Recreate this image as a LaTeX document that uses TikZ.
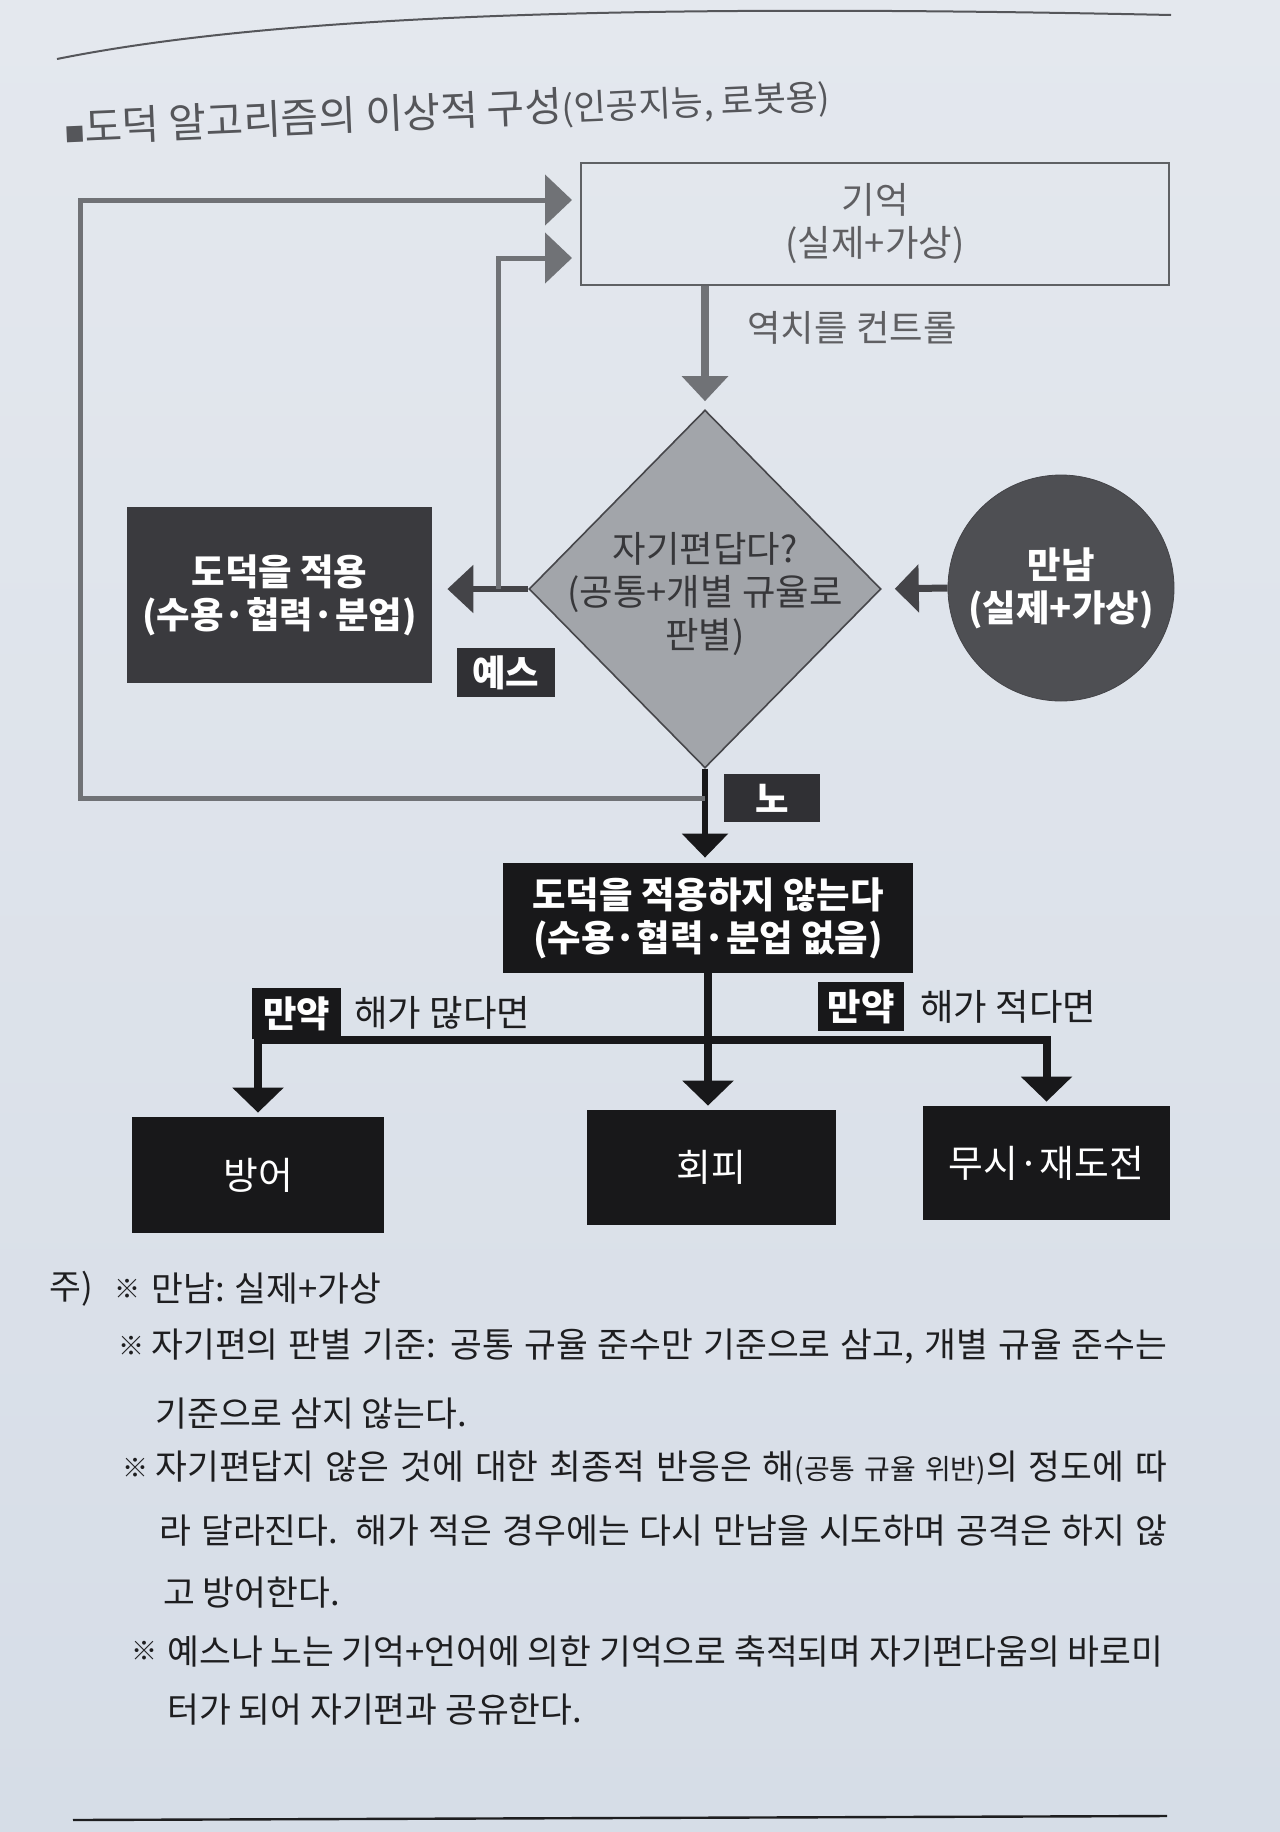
\documentclass[tikz,border=0pt]{standalone}
\usepackage{fontspec}
\setmainfont{Noto Sans CJK KR}
\usetikzlibrary{arrows.meta,shapes.geometric}

\begin{document}
\begin{tikzpicture}[x=0.5pt, y=-0.5pt,
    gieokBox/.style={draw=lineGrey, line width=1pt, minimum width=294pt, minimum height=61pt, inner sep=0pt, align=center, text=textGrey, font=\boxSize},
    darkBox/.style={fill=#1, inner sep=0pt, align=center, text=white, font=\boxSize\bfseries},
    tagBox/.style={fill=tagFill, inner sep=0pt, minimum width=49pt, minimum height=24.5pt, text=white, font=\boxSize\bfseries},
    endBox/.style={fill=blackFill, inner sep=0pt, text=white, font=\endSize},
    plainText/.style={anchor=west, inner sep=0pt, font=\boxSize},
    noteText/.style={anchor=west, inner sep=0pt, text=inkBlack, font=\noteSize},
    noteMark/.style={anchor=west, inner sep=0pt, text=inkBlack, font=\fontsize{13}{13}\selectfont},
    loopLine/.style={draw=loopGrey, line width=2.5pt, -{Triangle[length=13.5pt,width=25pt]}, shorten >=4pt},
    treeLine/.style={draw=blackFill, line width=4pt},
    treeTip/.style={-{Triangle[length=12.5pt,width=25pt]}, shorten >=2pt}
]
    \definecolor{bgTop}{RGB}{228,232,238}
    \definecolor{bgBottom}{RGB}{214,221,231}
    \definecolor{lineGrey}{RGB}{95,97,100}
    \definecolor{textGrey}{RGB}{95,95,98}
    \definecolor{titleGrey}{RGB}{85,86,90}
    \definecolor{loopGrey}{RGB}{112,114,118}
    \definecolor{darkGrey}{RGB}{68,68,72}
    \definecolor{diamondFill}{RGB}{162,165,170}
    \definecolor{diamondEdge}{RGB}{70,70,74}
    \definecolor{diamondText}{RGB}{55,55,58}
    \definecolor{circleFill}{RGB}{78,79,83}
    \definecolor{applyFill}{RGB}{58,58,62}
    \definecolor{tagFill}{RGB}{48,48,52}
    \definecolor{blackFill}{RGB}{24,24,26}
    \definecolor{inkBlack}{RGB}{30,30,32}

    \def\boxSize{\fontsize{18.2}{21.5}\selectfont}
    \def\endSize{\fontsize{18.9}{21}\selectfont}
    \def\noteSize{\fontsize{17.3}{21}\selectfont}

    % Page
    \shade[top color=bgTop, bottom color=bgBottom] (0,0) rectangle (1280,1832);
    \useasboundingbox (0,0) rectangle (1280,1832);

    % Rules
    \draw[draw=titleGrey, line width=1pt] (57,59) .. controls (300,10) and (700,5) .. (1171,15);
    \draw[draw=inkBlack, line width=1.2pt] (73,1820) -- (1167,1816);

    % Title
    \node[anchor=base west, inner sep=0pt, rotate=2.5, text=titleGrey] (title) at (65,143)
        {{\fontsize{10}{10}\selectfont ■}{\fontsize{20.4}{21}\selectfont 도덕 알고리즘의 이상적 구성}{\fontsize{17.6}{18}\selectfont(인공지능, 로봇용)}};

    % Memory, judgement, meeting
    \node[gieokBox] (gieok) at (875,224) {기억\\(실제+가상)};
    \node[diamond, draw=diamondEdge, fill=diamondFill, line width=0.8pt, minimum width=176pt, minimum height=179pt, inner sep=0pt] (judge) at (705,589) {};
    \node[align=center, inner sep=0pt, text=diamondText, font=\boxSize] (judgeText) at (705,594) {자기편답다?\\(공통+개별 규율로\\판별)};
    \node[circle, draw=darkGrey, fill=circleFill, minimum size=113pt, inner sep=0pt, align=center, text=white, font=\boxSize\bfseries] (meet) at (1061,588) {만남\\(실제+가상)};

    % Outcomes
    \node[darkBox=applyFill, minimum width=152.5pt, minimum height=88pt] (apply) at (279.5,595) {도덕을 적용\\(수용·협력·분업)};
    \node[tagBox] (yes) at (505.5,672.5) {예스};
    \node[tagBox, minimum width=48pt, minimum height=24pt] (no) at (772,798) {노};
    \node[darkBox=blackFill, minimum width=205pt, minimum height=55pt] (noApply) at (708,918) {도덕을 적용하지 않는다\\(수용·협력·분업 없음)};

    \node[tagBox, fill=blackFill, minimum width=44.5pt, minimum height=25.5pt] (ifMany) at (296.5,1013.5) {만약};
    \node[plainText, text=inkBlack] (harmMany) at (354,1013) {해가 많다면};
    \node[tagBox, fill=blackFill, minimum width=43pt] (ifFew) at (861,1006.5) {만약};
    \node[plainText, text=inkBlack] (harmFew) at (920,1007) {해가 적다면};

    \node[endBox, minimum width=126pt, minimum height=58pt] (defend) at (258,1175) {방어};
    \node[endBox, minimum width=124.5pt, minimum height=57.5pt] (avoid) at (711.5,1167.5) {회피};
    \node[endBox, minimum width=123.5pt, minimum height=57pt] (ignore) at (1046.5,1163) {무시·재도전};

    % Threshold arrow
    \draw[draw=loopGrey, line width=4pt, -{Triangle[length=12.5pt,width=22.5pt]}, shorten >=4pt] (judge.north |- gieok.south) -- (judge.north);
    \node[plainText, text=textGrey] (threshold) at (747,328) {역치를 컨트롤};

    % Yes branch and inner loop
    \coordinate (yesX) at (498,0);
    \coordinate (innerY) at (0,258);
    \coordinate (yesJoin) at (judge.west -| yesX);
    \draw[draw=darkGrey, line width=3pt, -{Triangle[length=13pt,width=23.5pt]}, shorten >=7.5pt] (judge.west) -- (judge.west -| apply.east);
    \draw[loopLine] (yesJoin) |- (gieok.west |- innerY);

    % Meeting arrow
    \draw[draw=darkGrey, line width=3.5pt, -{Triangle[length=12pt,width=23.5pt]}, shorten >=6.5pt] (meet.west) -- (judge.east);

    % No branch and outer loop
    \coordinate (noY) at (0,798);
    \coordinate (outerX) at (80,0);
    \coordinate (outerY) at (0,200);
    \coordinate (noJoin) at (judge.south |- noY);
    \draw[draw=blackFill, line width=3pt, -{Triangle[length=12pt,width=22.5pt]}, shorten >=2.5pt] (judge.south) -- (judge.south |- noApply.north);
    \draw[loopLine] (noJoin) -- (noJoin -| outerX) |- (gieok.west |- outerY);

    % Reaction tree
    \coordinate (forkY) at (0,1040);
    \coordinate (fork) at (noApply.south |- forkY);
    \draw[treeLine] (noApply.south) -- (fork);
    \draw[treeLine, treeTip] (fork) -| (defend.north);
    \draw[treeLine, treeTip] (fork) -| (ignore.north);
    \draw[treeLine, treeTip] (fork) -- (fork |- avoid.north);

    % Notes
    \node[noteText] (noteHead) at (49,1289) {주)};
    \node[noteMark] (markA) at (114,1289) {※};
    \node[noteText] (noteA) at (151,1289) {만남: 실제+가상};
    \node[noteMark] (markB) at (118,1346) {※};
    \node[noteText] (noteB) at (151,1346) {\makebox[508pt][s]{자기편의 판별 기준: 공통 규율 준수만 기준으로 삼고, 개별 규율 준수는}};
    \node[noteText] (noteBb) at (155,1414) {기준으로 삼지 않는다.};
    \node[noteMark] (markC) at (122,1468) {※};
    \node[noteText] (noteC) at (155,1468) {\makebox[506pt][s]{자기편답지 않은 것에 대한 최종적 반응은 해{\fontsize{14}{14}\selectfont(공통 규율 위반)}의 정도에 따}};
    \node[noteText] (noteCb) at (159,1531) {\makebox[504pt][s]{라 달라진다. 해가 적은 경우에는 다시 만남을 시도하며 공격은 하지 않}};
    \node[noteText] (noteCc) at (163,1593) {고 방어한다.};
    \node[noteMark] (markD) at (131,1651) {※};
    \node[noteText] (noteD) at (167,1651) {\makebox[498pt][s]{예스나 노는 기억+언어에 의한 기억으로 축적되며 자기편다움의 바로미}};
    \node[noteText] (noteDb) at (167,1710) {터가 되어 자기편과 공유한다.};

\end{tikzpicture}
\end{document}
